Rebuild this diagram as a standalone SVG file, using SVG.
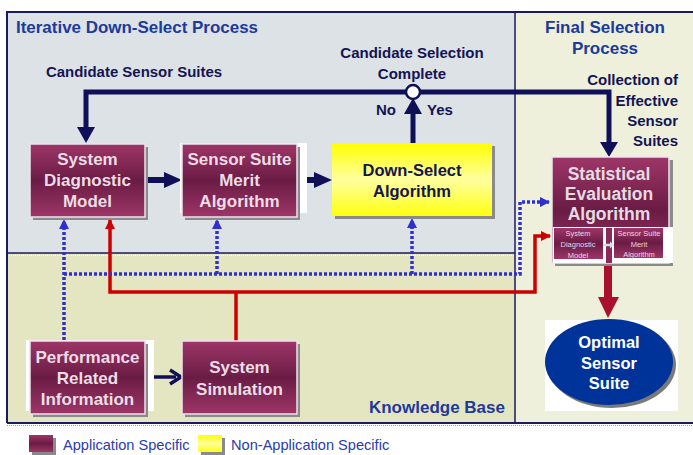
<svg xmlns="http://www.w3.org/2000/svg" width="693" height="455" viewBox="0 0 693 455">
<defs>
<linearGradient id="gm" x1="0" y1="0" x2="0" y2="1">
<stop offset="0" stop-color="#9e3668"/><stop offset="0.5" stop-color="#6a1c44"/><stop offset="1" stop-color="#9e3668"/>
</linearGradient>
<linearGradient id="gy" x1="0" y1="0" x2="0" y2="1">
<stop offset="0" stop-color="#ffff00"/><stop offset="0.5" stop-color="#ffffa0"/><stop offset="1" stop-color="#ffff10"/>
</linearGradient>
<marker id="ab" viewBox="0 0 10 10" refX="9" refY="5" markerWidth="3" markerHeight="3" orient="auto" markerUnits="strokeWidth"><path d="M0,0 L10,5 L0,10 z" fill="#3030d0"/></marker>
<marker id="ar" viewBox="0 0 10 10" refX="9" refY="5" markerWidth="3" markerHeight="3" orient="auto" markerUnits="strokeWidth"><path d="M0,0 L10,5 L0,10 z" fill="#cc0000"/></marker>
</defs>
<style>
.t{font-family:"Liberation Sans",Arial,sans-serif;font-weight:bold}
.bx{fill:url(#gm);stroke:#ece4f0;stroke-width:1.5}
.sh{fill:#8a8a8a}
.bt{font-family:"Liberation Sans",Arial,sans-serif;font-weight:bold;font-size:17px;fill:#ecdde6;text-anchor:middle}
.nv{font-family:"Liberation Sans",Arial,sans-serif;font-weight:bold;font-size:15px;fill:#141452}
.ttl{font-family:"Liberation Sans",Arial,sans-serif;font-weight:bold;font-size:17px;fill:#1c3a9a}
.dot{fill:none;stroke:#3030d0;stroke-width:3.5;stroke-dasharray:3 2}
.red{fill:none;stroke:#cc0000;stroke-width:3.5}
.leg{font-family:"Liberation Sans",Arial,sans-serif;font-size:14.6px;fill:#2a3ca8}
.sm{font-family:"Liberation Sans",Arial,sans-serif;font-size:7.5px;fill:#e6d8e2;text-anchor:middle}
</style>
<rect width="693" height="455" fill="#ffffff"/>
<g id="regions">
<rect x="7" y="12" width="508" height="241" fill="#dce2e6"/>
<rect x="7" y="253" width="508" height="170" fill="#e3e6c0"/>
<rect x="515" y="12" width="178" height="411" fill="#eef0dc"/>
<line x1="7" y1="253" x2="515" y2="253" stroke="#1a1a5e" stroke-width="1.5"/>
<line x1="7" y1="255.5" x2="515" y2="255.5" stroke="#ffffff" stroke-width="1" stroke-dasharray="1 1"/>
<line x1="515" y1="12" x2="515" y2="423" stroke="#1a1a5e" stroke-width="1.5"/>
<path d="M7,423 L7,12 L693,12" fill="none" stroke="#1a1a5e" stroke-width="2"/>
<line x1="7" y1="423" x2="693" y2="423" stroke="#1a1a5e" stroke-width="2"/>
<line x1="7" y1="425.5" x2="693" y2="425.5" stroke="#a0a0a0" stroke-width="1" stroke-dasharray="1 1"/>
<text class="ttl" x="16" y="33" textLength="242" lengthAdjust="spacingAndGlyphs">Iterative Down-Select Process</text>
<text class="ttl" x="605" y="33" text-anchor="middle">Final Selection</text>
<text class="ttl" x="605" y="54" text-anchor="middle">Process</text>
<text class="ttl" x="505" y="413" text-anchor="end">Knowledge Base</text>
</g>
<g id="labels">
<text class="nv" x="46" y="77" textLength="176" lengthAdjust="spacingAndGlyphs">Candidate Sensor Suites</text>
<text class="nv" x="412" y="58" text-anchor="middle">Candidate Selection</text>
<text class="nv" x="412" y="79" text-anchor="middle">Complete</text>
<text class="nv" x="376" y="115">No</text>
<text class="nv" x="427" y="115">Yes</text>
<text class="nv" x="678" y="85" text-anchor="end">Collection of</text>
<text class="nv" x="678" y="106" text-anchor="end">Effective</text>
<text class="nv" x="678" y="126" text-anchor="end">Sensor</text>
<text class="nv" x="678" y="146" text-anchor="end">Suites</text>
</g>
<g id="connectors">
<path d="M86,128 L86,92 L609,92 L609,143" fill="none" stroke="#101058" stroke-width="5"/>
<path d="M77,127 L95,127 L86,143 z" fill="#101058"/>
<path d="M600,142 L618,142 L609,157 z" fill="#101058"/>
<line x1="413" y1="143" x2="413" y2="112" stroke="#101058" stroke-width="5"/>
<path d="M404,114 L422,114 L413,98 z" fill="#101058"/>
<circle cx="413" cy="92" r="7" fill="#ffffff" stroke="#101058" stroke-width="2.5"/>
<line x1="146" y1="180" x2="166" y2="180" stroke="#101058" stroke-width="6"/>
<path d="M164,172 L182,180 L164,188 z" fill="#101058"/>
<line x1="298" y1="180" x2="316" y2="180" stroke="#101058" stroke-width="6"/>
<path d="M314,172 L332,180 L314,188 z" fill="#101058"/>
<line x1="146" y1="377" x2="176" y2="377" stroke="#101058" stroke-width="3.5"/>
<path d="M170,370 L181,377 L170,384" fill="none" stroke="#101058" stroke-width="3.5"/>
<path class="red" d="M236,341 L236,292"/>
<path class="red" d="M110,233 L110,292 L535,292 L535,236 L550,236" marker-end="url(#ar)"/>
<path class="red" d="M110,233 L110,220" marker-end="url(#ar)"/>
<path class="dot" d="M64,340 L64,220" marker-end="url(#ab)"/>
<path class="dot" d="M64,274 L520,274 L520,202 L549,202" marker-end="url(#ab)"/>
<path class="dot" d="M217,274 L217,220" marker-end="url(#ab)"/>
<path class="dot" d="M412,274 L412,219" marker-end="url(#ab)"/>
<rect x="604" y="266" width="8" height="32" fill="#a8102c"/>
<path d="M598,297 L619,297 L608,318 z" fill="#a8102c"/>
</g>
<g id="system-diagnostic-model">
<rect class="sh" x="33" y="147" width="115" height="73"/>
<rect class="bx" x="30" y="144" width="115" height="73"/>
<text class="bt" x="87.5" y="165">System</text>
<text class="bt" x="87.5" y="186">Diagnostic</text>
<text class="bt" x="87.5" y="207">Model</text>
</g>
<g id="sensor-suite-merit-algorithm">
<rect x="180" y="143" width="127" height="70" fill="#ffffff"/>
<rect class="sh" x="185" y="147" width="115" height="73"/>
<rect class="bx" x="182" y="144" width="115" height="73"/>
<text class="bt" x="239.5" y="165">Sensor Suite</text>
<text class="bt" x="239.5" y="186">Merit</text>
<text class="bt" x="239.5" y="207">Algorithm</text>
</g>
<g id="down-select-algorithm">
<rect class="sh" x="335" y="146" width="160" height="73"/>
<rect x="332" y="143" width="160" height="73" fill="url(#gy)"/>
<text class="t" x="412" y="176" font-size="16.5" fill="#141452" text-anchor="middle">Down-Select</text>
<text class="t" x="412" y="197" font-size="16.5" fill="#141452" text-anchor="middle">Algorithm</text>
</g>
<g id="statistical-evaluation-algorithm">
<rect class="sh" x="555" y="160" width="118" height="106"/>
<rect class="bx" x="552" y="157" width="117" height="106"/>
<text class="t" x="609" y="180" font-size="17.5" fill="#e6dae2" text-anchor="middle">Statistical</text>
<text class="t" x="609" y="200" font-size="17.5" fill="#e6dae2" text-anchor="middle">Evaluation</text>
<text class="t" x="609" y="220" font-size="17.5" fill="#e6dae2" text-anchor="middle">Algorithm</text>
<rect x="553" y="227" width="120" height="36" fill="#ffffff"/>
<rect x="554" y="228" width="49" height="31" fill="url(#gm)"/>
<rect x="606" y="228" width="6" height="35" fill="#8a2a58"/>
<rect x="614" y="228" width="49" height="30" fill="url(#gm)"/>
<text class="sm" x="578" y="236">System</text>
<text class="sm" x="578" y="247">Diagnostic</text>
<text class="sm" x="578" y="258">Model</text>
<text class="sm" x="639" y="236">Sensor Suite</text>
<text class="sm" x="639" y="247">Merit</text>
<text class="sm" x="639" y="257">Algorithm</text>
<path d="M603,245 L611,245" stroke="#cfe0f0" stroke-width="2.5"/>
<path d="M610,241.5 L614,245 L610,248.5 z" fill="#cfe0f0"/>
</g>
<g id="optimal-sensor-suite">
<rect x="545" y="320" width="133" height="91" fill="#ffffff"/>
<ellipse cx="612" cy="365" rx="64" ry="43" fill="#7a7a7a"/>
<ellipse cx="609" cy="362" rx="64" ry="43" fill="#003399"/>
<text class="t" x="609" y="348" font-size="16.5" fill="#ffffff" text-anchor="middle">Optimal</text>
<text class="t" x="609" y="369" font-size="16.5" fill="#ffffff" text-anchor="middle">Sensor</text>
<text class="t" x="609" y="389" font-size="16.5" fill="#ffffff" text-anchor="middle">Suite</text>
</g>
<g id="performance-related-information">
<rect x="26" y="340" width="128" height="71" fill="#ffffff"/>
<rect class="sh" x="33" y="344" width="115" height="73"/>
<rect class="bx" x="30" y="341" width="115" height="73"/>
<text class="bt" x="87.5" y="363">Performance</text>
<text class="bt" x="87.5" y="384">Related</text>
<text class="bt" x="87.5" y="405">Information</text>
</g>
<g id="system-simulation">
<rect class="sh" x="185" y="344" width="115" height="73"/>
<rect class="bx" x="182" y="341" width="115" height="73"/>
<text class="bt" x="239.5" y="373">System</text>
<text class="bt" x="239.5" y="395">Simulation</text>
</g>
<g id="legend">
<rect class="sh" x="32" y="438" width="24" height="17"/>
<rect x="29" y="435" width="24" height="17" fill="url(#gm)"/>
<text class="leg" x="63" y="450">Application Specific</text>
<rect class="sh" x="201" y="438" width="24" height="17"/>
<rect x="198" y="435" width="24" height="17" fill="url(#gy)"/>
<text class="leg" x="231" y="450">Non-Application Specific</text>
</g>
</svg>
